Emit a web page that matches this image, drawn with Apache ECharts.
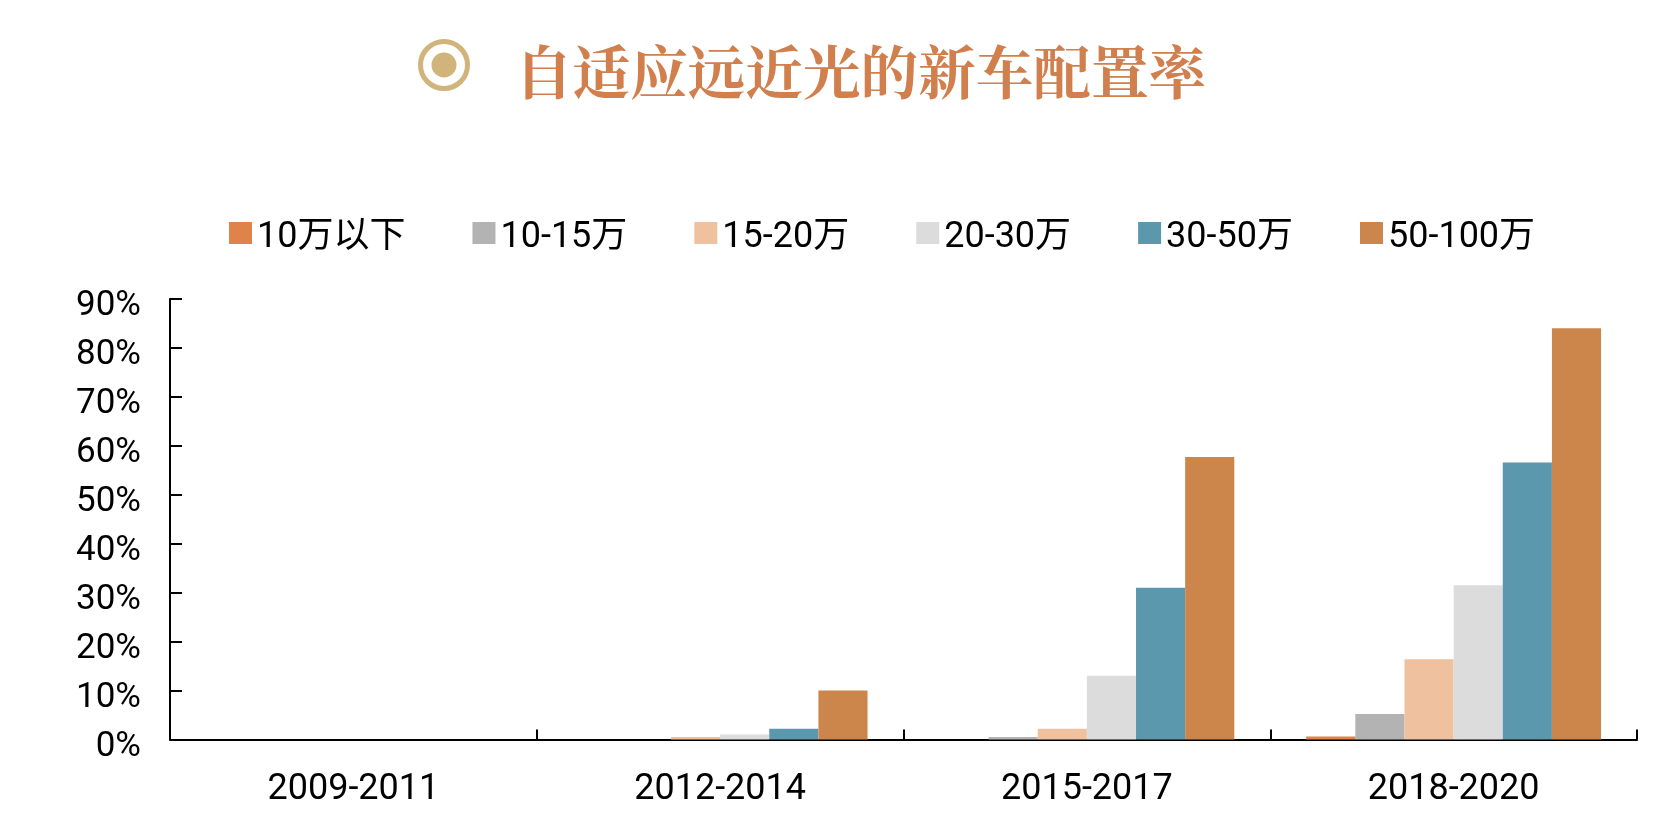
<!DOCTYPE html>
<html><head><meta charset="utf-8">
<script src="https://cdn.jsdelivr.net/npm/echarts@6/dist/echarts.min.js"></script>
<style>html,body{margin:0;padding:0;background:#fff}#c{width:1670px;height:824px}</style>
</head><body><div id="c"></div>
<script>
const categories = ['2009-2011','2012-2014','2015-2017','2018-2020'];
const titleText = '自适应远近光的新车配置率';
const s10 = [0,0,0,0.6];
const s10_15 = [0,0,0.5,5.2];
const s15_20 = [0,0.5,2.2,16.4];
const s20_30 = [0,1.0,13,31.5];
const s30_50 = [0,2.2,31,56.6];
const s50_100 = [0,10,57.7,84];
const names = ['10万以下','10-15万','15-20万','20-30万','30-50万','50-100万'];
const colors = ['#E0834A','#B3B3B3','#F0C19E','#DCDCDC','#5B98AE','#CC864B'];
const values = [s10,s10_15,s15_20,s20_30,s30_50,s50_100];
const font = 'Roboto,"Noto Sans CJK SC",sans-serif';
const chart = echarts.init(document.getElementById('c'),null,{renderer:'canvas'});
chart.setOption({
  animation:false,
  backgroundColor:'#fff',
  color:colors,
  title:{text:titleText,left:515,top:43,padding:0,textStyle:{color:'#D07F4D',fontSize:57.6,fontWeight:'bold',fontFamily:'"Noto Serif CJK SC","Noto Sans CJK SC",serif'}},
  graphic:[
    {type:'circle',shape:{cx:444,cy:65,r:23.5},style:{fill:'none',stroke:'#D0B47C',lineWidth:5}},
    {type:'circle',shape:{cx:444,cy:65,r:12.5},style:{fill:'#D0B47C'}}
  ],
  legend:{left:229,top:220,padding:0,itemWidth:23,itemHeight:22,itemGap:67,icon:'rect',
    formatter:n=>'{a|'+n+'}',
    textStyle:{rich:{a:{fontSize:36,color:'#000',fontFamily:font,padding:[10,0,0,0]}}},data:names},
  grid:{left:170,right:33,top:299,bottom:84.5,containLabel:false},
  xAxis:{type:'category',data:categories,
    axisLine:{lineStyle:{color:'#000',width:2}},
    axisTick:{show:true,inside:true,length:10,lineStyle:{color:'#000',width:2}},
    axisLabel:{fontSize:36,color:'#000',margin:32,fontFamily:font},splitLine:{show:false}},
  yAxis:{type:'value',min:0,max:90,interval:10,
    axisLine:{show:true,lineStyle:{color:'#000',width:2}},
    axisTick:{show:true,inside:true,length:12,lineStyle:{color:'#000',width:2}},
    axisLabel:{fontSize:35,color:'#000',margin:29,fontFamily:font,verticalAlign:'top',lineHeight:15,formatter:v=>v+'%'},splitLine:{show:false}},
  series:names.map((n,i)=>({name:n,type:'bar',data:values[i],barGap:'0%',barCategoryGap:'19.6%',
    itemStyle:{color:colors[i]}}))
});
</script></body></html>
